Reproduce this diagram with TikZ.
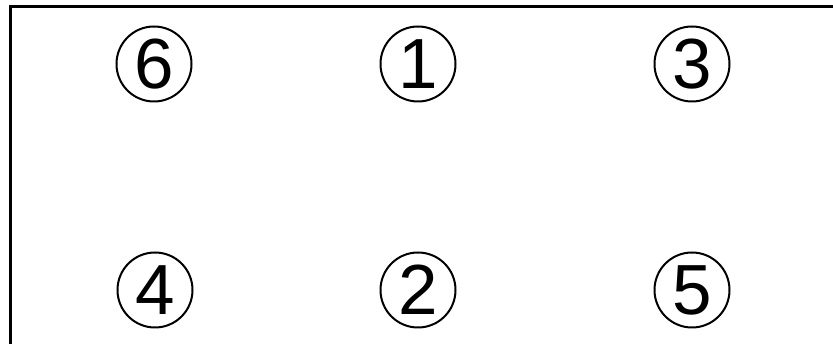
\documentclass[tikz,border=0pt]{standalone}
\usepackage{fontspec}
\setmainfont{Liberation Sans}
\newcommand{\dg}[1]{\raisebox{-3pt}{#1}}
\begin{document}
\begin{tikzpicture}[x=1pt,y=1pt,
  circ/.style={circle, draw, line width=2pt, minimum size=75pt, inner sep=0pt,
    font=\fontsize{71}{71}\selectfont}]
\useasboundingbox (0,0) rectangle (833,344);
\draw[line width=2.2pt] (10.5,0) |- (833,337.5);
\node[circ] (n6) at (154,280) {\dg{6}};
\node[circ] (n1) at (418,280) {\dg{1}};
\node[circ] (n3) at (692,280) {\dg{3}};
\node[circ] (n4) at (155,54) {\dg{4}};
\node[circ] (n2) at (418,54) {\dg{2}};
\node[circ] (n5) at (692,54) {\dg{5}};
\end{tikzpicture}
\end{document}
